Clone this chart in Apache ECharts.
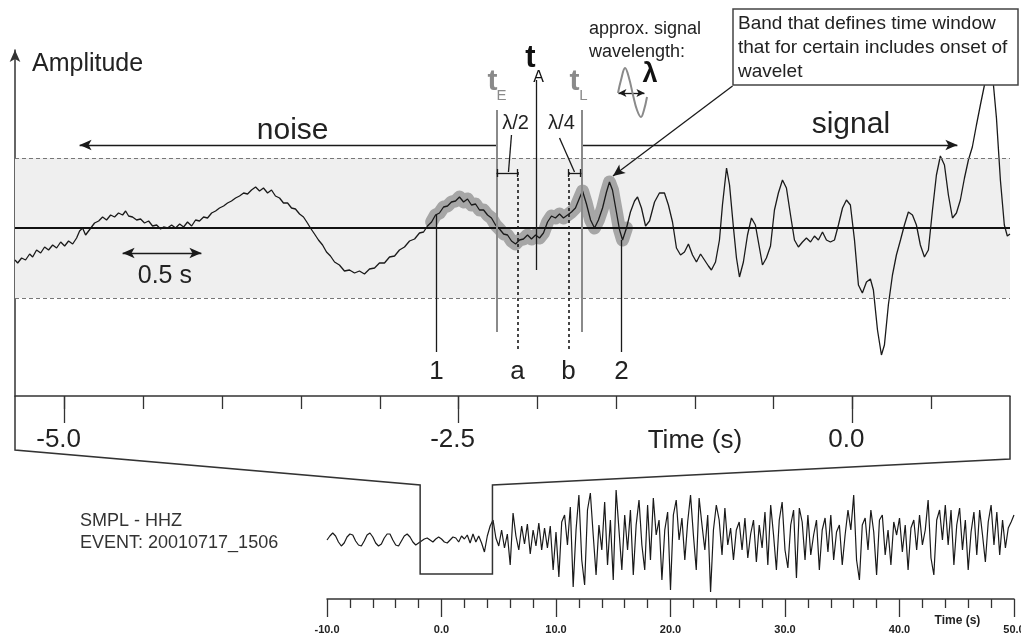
<!DOCTYPE html>
<html>
<head>
<meta charset="utf-8">
<script src="https://cdn.jsdelivr.net/npm/echarts@6/dist/echarts.min.js"></script>
<style>
html, body { margin: 0; padding: 0; background: #fff; }
#main { width: 1021px; height: 635px; }
</style>
</head>
<body>
<div id="main"></div>
<script>
// zoomed window (top panel), time in s relative to the pick, amplitude in counts
var topXMin = -5.315, topXMax = 1.0;
var topAmpMin = -168, topAmpMax = 178;
var bandHalf = 70;
var majorTicksTop = [-5, -2.5, 0];
var minorTicksTop = [-5, -4.5, -4, -3.5, -3, -2.5, -2, -1.5, -1, -0.5, 0, 0.5];

var topTime = [
  -5.315, -5.298, -5.273, -5.248, -5.222, -5.203, -5.178, -5.152, -5.127, -5.102,
  -5.076, -5.051, -5.025, -5.000, -4.975, -4.949, -4.924, -4.905, -4.886, -4.867,
  -4.848, -4.829, -4.810, -4.784, -4.759, -4.734, -4.708, -4.683, -4.658, -4.632,
  -4.613, -4.594, -4.569, -4.543, -4.518, -4.493, -4.467, -4.442, -4.416, -4.391,
  -4.372, -4.347, -4.321, -4.296, -4.270, -4.245, -4.220, -4.194, -4.169, -4.144,
  -4.118, -4.093, -4.067, -4.042, -4.017, -3.991, -3.966, -3.941, -3.915, -3.890,
  -3.864, -3.839, -3.814, -3.788, -3.763, -3.738, -3.712, -3.687, -3.662, -3.636,
  -3.611, -3.585, -3.560, -3.535, -3.509, -3.484, -3.459, -3.440, -3.414, -3.389,
  -3.363, -3.338, -3.313, -3.287, -3.256, -3.224, -3.192, -3.160, -3.129, -3.097,
  -3.065, -3.033, -3.002, -2.970, -2.938, -2.906, -2.875, -2.843, -2.811, -2.779,
  -2.748, -2.722, -2.697, -2.671, -2.646, -2.621, -2.595, -2.570, -2.545, -2.519,
  -2.494, -2.468, -2.443, -2.418, -2.392, -2.367, -2.341, -2.316, -2.291, -2.265,
  -2.240, -2.214, -2.189, -2.164, -2.138, -2.113, -2.088, -2.062, -2.037, -2.011,
  -1.986, -1.961, -1.935, -1.910, -1.885, -1.859, -1.834, -1.808, -1.783, -1.758,
  -1.732, -1.713, -1.688, -1.662, -1.637, -1.612, -1.586, -1.561, -1.542, -1.523,
  -1.497, -1.478, -1.459, -1.434, -1.409, -1.383, -1.364, -1.339, -1.313, -1.288,
  -1.256, -1.225, -1.193, -1.168, -1.142, -1.117, -1.091, -1.066, -1.041, -1.015,
  -0.990, -0.964, -0.939, -0.914, -0.895, -0.869, -0.844, -0.825, -0.799, -0.780,
  -0.755, -0.736, -0.717, -0.692, -0.666, -0.641, -0.616, -0.590, -0.571, -0.546,
  -0.520, -0.495, -0.470, -0.444, -0.419, -0.393, -0.368, -0.343, -0.317, -0.292,
  -0.266, -0.241, -0.216, -0.190, -0.165, -0.140, -0.114, -0.089, -0.063, -0.038,
  -0.013, 0.013, 0.038, 0.063, 0.089, 0.114, 0.133, 0.159, 0.184, 0.203,
  0.228, 0.254, 0.279, 0.305, 0.330, 0.355, 0.381, 0.406, 0.431, 0.457,
  0.482, 0.508, 0.533, 0.558, 0.584, 0.609, 0.635, 0.660, 0.685, 0.711,
  0.736, 0.761, 0.787, 0.812, 0.838, 0.863, 0.888, 0.914, 0.939, 0.964,
  0.983, 1.000
];
var topAmp = [
  -32, -35, -30, -32, -26, -29, -22, -25, -19, -22,
  -17, -20, -14, -18, -13, -16, -10, -3, 0, -7,
  -3, 1, 5, 7, 11, 8, 13, 11, 15, 13,
  17, 12, 11, 8, 9, 5, 7, 2, 3, -1,
  1, 0, 3, 0, 4, 1, 6, 2, 8, 7,
  11, 10, 15, 17, 20, 22, 25, 27, 30, 32,
  35, 34, 38, 41, 37, 40, 35, 38, 32, 30,
  25, 25, 20, 19, 14, 11, 5, 0, -6, -12,
  -17, -24, -28, -34, -37, -43, -42, -45, -43, -46,
  -41, -40, -35, -35, -29, -28, -22, -19, -13, -11,
  -5, -4, 2, 6, 13, 15, 21, 22, 26, 27,
  31, 26, 29, 23, 24, 18, 18, 13, 10, 3,
  -1, -6, -7, -13, -16, -12, -11, -7, -11, -7,
  -10, -5, 6, 12, 10, 14, 10, 13, 16, 20,
  30, 37, 24, 8, 0, 8, 20, 36, 46, 38,
  15, -2, -12, 0, 16, 27, 31, 20, 2, 7,
  26, 35, 35, 23, 6, -20, -27, -24, -16, -27,
  -34, -26, -32, -38, -42, -34, -12, 23, 60, 43,
  0, -30, -49, -34, -7, 10, 3, -20, -37, -30,
  -18, 18, 35, 48, 40, 13, -12, -19, -14, -10,
  -14, -8, -12, -4, -12, -14, -12, 3, 20, 28,
  23, -12, -57, -65, -54, -51, -62, -102, -127, -117,
  -77, -47, -27, -12, 3, 16, 13, 3, -17, -29,
  -22, 18, 53, 72, 63, 33, 10, 15, 28, 50,
  68, 81, 103, 123, 143, 158, 155, 110, 48, 3,
  -8, -6
];

// picks and windows (s, top-panel time)
var tE = -2.259, tA = -2.005, tL = -1.72;
var pickTimes = [-2.64, -2.126, -1.802, -1.466];
var pickLabels = ['1', 'a', 'b', '2'];
var highlightWindow = [-2.69, -1.43];
var noiseArrow = [-4.905, tE];
var signalArrow = [tL, 0.666];
var halfSecBar = [-4.632, -4.132];

// full record (bottom panel), sampled every 0.25 s from -10 s
var bottomStart = -10, bottomStep = 0.25;
var bottomAmp = [
  0, 4, 7, 4, -2, -6, -3, 3, 6, 5, -1, -5, -6, -1, 5, 7, 3, -3, -6, -4, 2, 6, 6, 0, -5, -6, -1, 4, 6, 3, -2, -5, -3,
  -1, 1, 2, 0, -2, 1, 3, 1, -2, -3, 0, 3, 2, -2, 4, 1, 5, -3, 6, -2, 4, -3, -12, 4, 14, 20,
  2, -6, 10, -8, 6, -25, 27, 4, -10, 14, -4, 16, -14, 10, -6, 17, -10, 12,
  -8, 14, -30, 8, -37, 18, 25, -5, 33, -47, 10, 45, -20, -45, 30, 47,
  5, -35, 15, -10, 38, -25, 20, -40, 50, 10, -30, 25, -10, 30, -35, 15,
  40, -5, -30, 35, -20, 42, 5, 20, -40, 10, 28, -50, 25, 40, 0, 22,
  -20, 18, 45, 5, -30, 42, 15, -10, 25, -52, 10, 35, 20, -15, 32, -5,
  12, -20, 10, 18, -10, 22, -18, 6, 20, -22, 15, -8, 28, -25, 35, 5,
  -30, 20, 38, -10, -28, 15, 30, -38, 32, 18, -20, 25, -15, 5, 20, -30,
  10, 22, -12, 25, -20, 8, 15, -25, 5, 30, 10, 45, -20, -40, 15, 22,
  -10, 30, 8, -35, 20, 25, -15, 10, -25, 18, 5, 22, -12, 15, -30, 12,
  20, -10, 25, -5, 10, 40, -18, -35, 20, 30, 0, 35, -5, 30, -25, 15,
  32, -10, 20, -30, 8, 28, -15, 30, 5, -22, 18, 35, -5, 28, -15, 20, -8, 12, 18, 25
];
var zoomOffset = 3.45;     // bottom time = top time + offset
var boxAmp = [-34, 55];

var FONT = '"Liberation Sans", Arial, Helvetica, sans-serif';
var chart = echarts.init(document.getElementById('main'));

var topData = topTime.map(function (t, i) { return [t, topAmp[i]]; });
var hlData = topData.filter(function (d) { return d[0] >= highlightWindow[0] && d[0] <= highlightWindow[1]; });
var bottomData = bottomAmp.map(function (v, i) { return [bottomStart + i * bottomStep, v]; });

var black = { color: '#1a1a1a', width: 1.3, type: 'solid' };
var gray = { color: '#8a8a8a', width: 2, type: 'solid' };
var dotted = { color: '#1a1a1a', width: 1.6, type: [3, 3] };

function seg(a, b, style, s1, s2, size) {
  var sz = size || [8, 12];
  return [
    { coord: a, symbol: s1 || 'none', symbolSize: sz, lineStyle: style },
    { coord: b, symbol: s2 || 'none', symbolSize: sz }
  ];
}

var ann = [
  seg([noiseArrow[0], 83], [noiseArrow[1], 83], black, 'arrow', 'none'),
  seg([signalArrow[0], 83], [signalArrow[1], 83], black, 'none', 'arrow'),
  seg([halfSecBar[0], -25], [halfSecBar[1], -25], black, 'arrow', 'arrow'),
  seg([-0.761, 142], [-1.52, 52], black, 'none', 'arrow'),
  seg([-1.485, 135], [-1.32, 135], black, 'arrow', 'arrow', [6, 8]),
  seg([pickTimes[0], 14], [pickTimes[0], -124], black),
  seg([tE, 118], [tE, -104], gray),
  seg([pickTimes[1], 56], [pickTimes[1], -124], dotted),
  seg([tA, 148], [tA, -42], black),
  seg([pickTimes[2], 56], [pickTimes[2], -124], dotted),
  seg([tL, 118], [tL, -104], gray),
  seg([pickTimes[3], -12], [pickTimes[3], -124], black),
  // lambda/2 and lambda/4 brackets
  seg([tE, 55], [pickTimes[1], 55], black),
  seg([tE + 0.006, 59], [tE + 0.006, 51], black),
  seg([pickTimes[1], 59], [pickTimes[1], 51], black),
  seg([pickTimes[2], 55], [tL, 55], black),
  seg([pickTimes[2], 59], [pickTimes[2], 51], black),
  seg([tL - 0.006, 59], [tL - 0.006, 51], black),
  seg([-2.164, 93], [-2.183, 56], black),
  seg([-1.859, 90], [-1.764, 56], black)
];

var option = {
  animation: false,
  grid: [
    { left: 15, right: 11, top: 50, bottom: 239, outerBoundsMode: 'none' },
    { left: 327, right: 7, top: 470, bottom: 36, outerBoundsMode: 'none' }
  ],
  xAxis: [
    {
      gridIndex: 0, type: 'value', min: topXMin, max: topXMax, position: 'bottom',
      axisLine: { show: true, onZero: false, lineStyle: { color: '#333', width: 1.5 } },
      axisTick: { show: true, customValues: majorTicksTop, length: 27, lineStyle: { color: '#333', width: 1.3 } },
      axisLabel: {
        show: true, customValues: majorTicksTop, formatter: function (v) { return v.toFixed(1); },
        fontSize: 26, fontFamily: FONT, color: '#222', margin: 31, padding: [0, 12, 0, 0]
      },
      splitLine: { show: false }
    },
    {
      gridIndex: 0, type: 'value', min: topXMin, max: topXMax, position: 'bottom', offset: 0,
      axisLine: { show: false, onZero: false },
      axisTick: { show: true, customValues: minorTicksTop, length: 13, lineStyle: { color: '#333', width: 1.3 } },
      axisLabel: { show: false },
      splitLine: { show: false }
    },
    {
      gridIndex: 1, type: 'value', min: -10, max: 50, interval: 10, position: 'bottom',
      axisLine: { show: true, onZero: false, lineStyle: { color: '#333', width: 1.5 } },
      axisTick: { show: true, length: 18, lineStyle: { color: '#333', width: 1.3 } },
      minorTick: { show: true, splitNumber: 5, length: 9, lineStyle: { color: '#333', width: 1.3 } },
      axisLabel: {
        formatter: function (v) { return v.toFixed(1); },
        fontSize: 11, fontWeight: 'bold', fontFamily: FONT, color: '#222', margin: 25
      },
      splitLine: { show: false }, minorSplitLine: { show: false }
    }
  ],
  yAxis: [
    {
      gridIndex: 0, type: 'value', min: topAmpMin, max: topAmpMax,
      axisLine: { show: true, onZero: false, symbol: ['none', 'arrow'], symbolSize: [8, 12], lineStyle: { color: '#333', width: 1.5 } },
      axisTick: { show: false }, axisLabel: { show: false }, splitLine: { show: false }
    },
    { gridIndex: 1, type: 'value', min: -59, max: 70, show: false }
  ],
  series: [
    {
      type: 'line', xAxisIndex: 0, yAxisIndex: 0, data: [[topXMin, 0], [topXMax, 0]],
      symbol: 'none', lineStyle: { opacity: 0 }, z: 1, silent: true,
      markArea: { silent: true, itemStyle: { color: '#efefef' }, data: [[{ yAxis: -bandHalf }, { yAxis: bandHalf }]] },
      markLine: {
        silent: true, symbol: ['none', 'none'], label: { show: false },
        data: [
          { yAxis: bandHalf, lineStyle: { color: '#777', type: [4, 3], width: 1.2 } },
          { yAxis: -bandHalf, lineStyle: { color: '#777', type: [4, 3], width: 1.2 } },
          { yAxis: 0, lineStyle: { color: '#111', type: 'solid', width: 2 } }
        ]
      }
    },
    {
      type: 'line', xAxisIndex: 0, yAxisIndex: 0, data: hlData, symbol: 'none', z: 2, silent: true,
      lineStyle: { color: '#a6a6a6', width: 13, cap: 'round', join: 'round' }
    },
    {
      type: 'line', xAxisIndex: 0, yAxisIndex: 0, data: topData, symbol: 'none', z: 3, silent: true,
      lineStyle: { color: '#1a1a1a', width: 1.3 }
    },
    {
      type: 'line', xAxisIndex: 0, yAxisIndex: 0, data: [[topXMin, 0]], symbol: 'none', z: 4, silent: true,
      lineStyle: { opacity: 0 },
      markLine: { silent: true, symbol: ['none', 'none'], label: { show: false }, data: ann }
    },
    {
      type: 'line', xAxisIndex: 2, yAxisIndex: 1, data: bottomData, symbol: 'none', silent: true,
      lineStyle: { color: '#1a1a1a', width: 1.2 }
    }
  ]
};
chart.setOption(option);

// texts and the zoom connector, placed through the axes
function p(t, a) { return chart.convertToPixel({ gridIndex: 0 }, [t, a]); }
function q(t, a) { return chart.convertToPixel({ gridIndex: 1 }, [t, a]); }
function txt(x, y, s, size, color, align, weight) {
  return {
    type: 'text', x: x, y: y, z: 101, silent: true,
    style: {
      text: s, fontSize: size, fontFamily: FONT, fill: color || '#222', fontWeight: weight || 'normal',
      align: align || 'center', textAlign: align || 'center', verticalAlign: 'middle', textVerticalAlign: 'middle'
    }
  };
}

var g = [];
g.push(txt(32, 64, 'Amplitude', 25, '#222', 'left'));
var c = p(-3.553, 97); g.push(txt(c[0], c[1], 'noise', 30));
c = p(-0.01, 103); g.push(txt(c[0], c[1], 'signal', 30));
c = p(tE, 146); g.push(txt(c[0] - 4, c[1], 't', 30, '#8a8a8a', 'center', 'bold'));
c = p(tE, 132); g.push(txt(c[0] + 5, c[1], 'E', 15, '#8a8a8a'));
c = p(tA, 170); g.push(txt(c[0] - 6, c[1], 't', 31, '#111', 'center', 'bold'));
c = p(tA, 150); g.push(txt(c[0] + 2, c[1], 'A', 16, '#111'));
c = p(tL, 146); g.push(txt(c[0] - 7, c[1], 't', 30, '#8a8a8a', 'center', 'bold'));
c = p(tL, 132); g.push(txt(c[0] + 2, c[1], 'L', 15, '#8a8a8a'));
c = p(tE, 105); g.push(txt(c[0] + 19, c[1], 'λ/2', 20));
c = p(tL, 105); g.push(txt(c[0] - 20, c[1], 'λ/4', 20));
pickTimes.forEach(function (t, i) {
  var pp = p(t, -144);
  g.push(txt(pp[0], pp[1], pickLabels[i], 26));
});
c = p((halfSecBar[0] + halfSecBar[1]) / 2 + 0.018, -48); g.push(txt(c[0], c[1], '0.5 s', 25));
g.push(txt(589, 29, 'approx. signal', 18, '#222', 'left'));
g.push(txt(589, 52, 'wavelength:', 18, '#222', 'left'));
g.push(txt(650, 75, 'λ', 27, '#111', 'center', 'bold'));
g.push({
  type: 'polyline', z: 100, silent: true,
  shape: { points: [[618, 93], [621, 80], [625, 68], [629, 78], [633, 95], [637, 110], [641, 117], [644, 110], [647, 97]], smooth: 0.4 },
  style: { stroke: '#8a8a8a', lineWidth: 2, fill: null }
});
g.push({
  type: 'rect', z: 100, silent: true,
  shape: { x: 733, y: 9, width: 285, height: 76 },
  style: { fill: '#fff', stroke: '#444', lineWidth: 1.5 }
});
g.push(txt(738, 24, 'Band that defines time window', 19, '#222', 'left'));
g.push(txt(738, 48, 'that for certain includes onset of', 19, '#222', 'left'));
g.push(txt(738, 72, 'wavelet', 19, '#222', 'left'));
c = p(-1.0, topAmpMin); g.push(txt(c[0], c[1] + 45, 'Time (s)', 26));
g.push(txt(80, 521, 'SMPL - HHZ', 18, '#333', 'left'));
g.push(txt(80, 543, 'EVENT: 20010717_1506', 18, '#333', 'left'));
c = q(45.5, -59); g.push(txt(c[0] - 5, c[1] + 22, 'Time (s)', 12, '#222', 'center', 'bold'));

var boxL = topXMin + zoomOffset, boxR = topXMax + zoomOffset;
var a0 = p(topXMin, topAmpMin), a1 = p(topXMax, topAmpMin);
g.push({
  type: 'polyline', z: 100, silent: true,
  shape: {
    points: [a0, [a0[0], a0[1] + 54], q(boxL, boxAmp[1]), q(boxL, boxAmp[0]), q(boxR, boxAmp[0]),
      q(boxR, boxAmp[1]), [a1[0], a1[1] + 63], a1]
  },
  style: { stroke: '#333', lineWidth: 1.5, fill: null }
});
chart.setOption({ graphic: g });
</script>
</body>
</html>
